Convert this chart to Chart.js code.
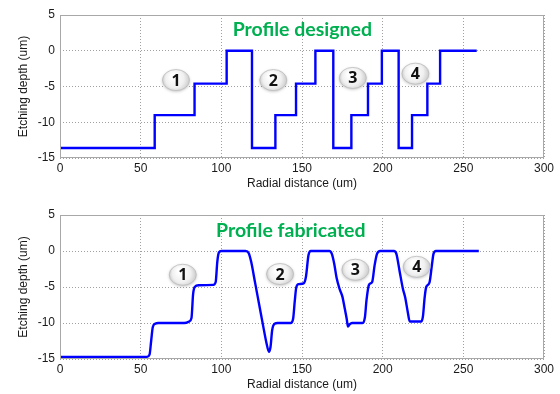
<!DOCTYPE html>
<html>
<head>
<meta charset="utf-8">
<script src="https://cdn.jsdelivr.net/npm/chart.js@4.4.1/dist/chart.umd.min.js"></script>
<style>
  body { margin: 0; background: #fff; }
  .box { position: absolute; left: 0; width: 560px; height: 197px; }
</style>
</head>
<body>
<div class="box" style="top:0"><canvas id="designedChart" width="560" height="197"></canvas></div>
<div class="box" style="top:197px"><canvas id="fabricatedChart" width="560" height="197"></canvas></div>
<script>
// tick labels
const xTicks = [0, 50, 100, 150, 200, 250, 300];
const yTicks = [-15, -10, -5, 0, 5];

// designed profile: step edges (x) and level reached at each edge (y)
const designedX = [0, 58.7, 83.4, 103.3, 119.0, 133.5, 146.3, 158.3, 169.4, 180.6, 190.9, 199.5, 209.9, 218.2, 227.7, 235.6, 258.3];
const designedY = [-13.6, -9, -4.6, 0, -13.6, -9, -4.6, 0, -13.6, -9, -4.6, 0, -13.6, -9, -4.6, 0, 0];

// fabricated profile
const fabricatedX = [0, 54, 55.5, 56.5, 57.5, 59, 61, 77, 80, 81.5, 82.5, 83.5, 86, 95, 96.5, 97.5, 98.5, 100,
  115, 117, 118.5, 121, 123.5, 126, 128, 129.5, 130.5, 131.5, 133, 135, 143, 144.5, 145.5, 146.5, 148, 151, 152.5, 154, 155.5,
  167, 168.5, 170, 171.5, 173.5, 175, 176.5, 177.7, 178.5, 179.5, 181, 187.5, 189, 190, 191.5, 193.5, 195, 196.5, 198.5,
  207, 208.5, 210.5, 212.5, 214, 215.5, 216.8, 218, 224, 225, 226, 227, 229, 230.5, 231.5, 233, 259.6];
const fabricatedY = [-14.7, -14.7, -14.4, -12.5, -10.6, -10.1, -10, -10, -9.8, -9.3, -6, -5, -4.75, -4.7, -4.3, -1.5, -0.2, 0,
  0, -0.3, -1.5, -4.5, -7.5, -10.5, -12.8, -14, -13.3, -11, -10.1, -10, -10, -9.4, -7, -5, -4.6, -4.5, -3.5, -0.6, 0,
  0, -0.4, -1.8, -3.8, -5.4, -6.3, -8, -9.4, -10.5, -10.2, -10, -10, -9.2, -6.8, -4.7, -4.3, -2, -0.4, 0,
  0, -0.4, -2.8, -5.2, -6.5, -8.4, -9.8, -9.8, -9.8, -9, -6.5, -5, -4.4, -2, -0.4, 0, 0];

// numbered markers (data coordinates)
const markerLabels = ['1', '2', '3', '4'];
const designedMarkerX = [71.9, 132.2, 181.5, 220.3];
const designedMarkerY = [-4.1, -4.1, -3.8, -3.2];
const fabricatedMarkerX = [76.1, 136.4, 183.1, 221.1];
const fabricatedMarkerY = [-3.3, -3.2, -2.6, -2.2];

function toPoints(xs, ys) {
  return xs.map((x, i) => ({ x: x, y: ys[i] }));
}

// frame, panel title and numbered bubbles
const decor = {
  id: 'decor',
  afterDatasetsDraw(chart, args, opts) {
    const ctx = chart.ctx;
    const a = chart.chartArea;
    const xs = chart.scales.x, ys = chart.scales.y;
    ctx.save();
    ctx.strokeStyle = '#a8a8a8';
    ctx.lineWidth = 1;
    ctx.strokeRect(a.left + 0.5, a.top + 0.5, a.right - a.left - 1, a.bottom - a.top - 1);

    ctx.fillStyle = '#00b050';
    ctx.font = 'bold 19.5px Lato';
    ctx.textBaseline = 'middle';
    ctx.textAlign = 'left';
    ctx.fillText(opts.title, xs.getPixelForValue(opts.titleX), ys.getPixelForValue(opts.titleY));

    opts.mx.forEach((mx, i) => {
      const cx = xs.getPixelForValue(mx), cy = ys.getPixelForValue(opts.my[i]);
      ctx.save();
      ctx.shadowColor = 'rgba(0,0,0,0.25)';
      ctx.shadowBlur = 3;
      ctx.shadowOffsetY = 1;
      const g = ctx.createRadialGradient(cx - 3, cy - 4, 2, cx, cy, 14);
      g.addColorStop(0, '#ffffff');
      g.addColorStop(0.6, '#f0f0f0');
      g.addColorStop(1, '#c8c8c8');
      ctx.fillStyle = g;
      ctx.beginPath();
      ctx.ellipse(cx, cy, 13.5, 10.5, 0, 0, Math.PI * 2);
      ctx.fill();
      ctx.restore();
      ctx.strokeStyle = '#bdbdbd';
      ctx.lineWidth = 0.8;
      ctx.beginPath();
      ctx.ellipse(cx, cy, 13.5, 10.5, 0, 0, Math.PI * 2);
      ctx.stroke();
      ctx.fillStyle = '#111';
      ctx.font = 'bold 16px "Open Sans"';
      ctx.textAlign = 'center';
      ctx.fillText(markerLabels[i], cx, cy + 1);
    });
    ctx.restore();
  }
};

function makeChart(id, points, smooth, deco, axisH, padTop, titlePadBottom) {
  const ctx = document.getElementById(id).getContext('2d');
  return new Chart(ctx, {
    type: 'line',
    data: {
      datasets: [{
        data: points,
        borderColor: '#0000ff',
        borderWidth: 2.4,
        pointRadius: 0,
        fill: false,
        stepped: smooth ? false : 'before',
        tension: smooth ? 0.4 : 0,
        cubicInterpolationMode: smooth ? 'monotone' : 'default'
      }]
    },
    options: {
      responsive: false,
      animation: false,
      layout: { padding: { top: padTop, right: 16, left: 0, bottom: 0 } },
      plugins: { legend: { display: false }, tooltip: { enabled: false }, decor: deco },
      scales: {
        x: {
          type: 'linear', min: 0, max: 300,
          afterBuildTicks: s => { s.ticks = xTicks.map(v => ({ value: v })); },
          afterFit: s => { s.height = axisH; },
          ticks: { color: '#1a1a1a', font: { family: 'Liberation Sans', size: 12 }, padding: 3, maxRotation: 0 },
          grid: { color: '#a0a0a0', drawTicks: false },
          border: { display: false, dash: [1, 2] },
          title: { display: true, text: 'Radial distance (um)', color: '#1a1a1a',
                   font: { family: 'Liberation Sans', size: 12 }, padding: { top: 0, bottom: titlePadBottom } }
        },
        y: {
          min: -15, max: 5,
          afterBuildTicks: s => { s.ticks = yTicks.map(v => ({ value: v })); },
          afterFit: s => { s.width = 60; },
          ticks: { color: '#1a1a1a', font: { family: 'Liberation Sans', size: 12 }, padding: 5 },
          grid: { color: '#a0a0a0', drawTicks: false },
          border: { display: false, dash: [1, 2] },
          title: { display: true, text: 'Etching depth (um)', color: '#1a1a1a',
                   font: { family: 'Liberation Sans', size: 12 }, padding: { top: 16, bottom: 0 } }
        }
      }
    },
    plugins: [decor]
  });
}

makeChart('designedChart', toPoints(designedX, designedY), false,
  { title: 'Profile designed', titleX: 107, titleY: 2.9, mx: designedMarkerX, my: designedMarkerY }, 39, 15, 6);
makeChart('fabricatedChart', toPoints(fabricatedX, fabricatedY), true,
  { title: 'Profile fabricated', titleX: 96.7, titleY: 2.8, mx: fabricatedMarkerX, my: fabricatedMarkerY }, 35, 18, 2);
</script>
</body>
</html>
